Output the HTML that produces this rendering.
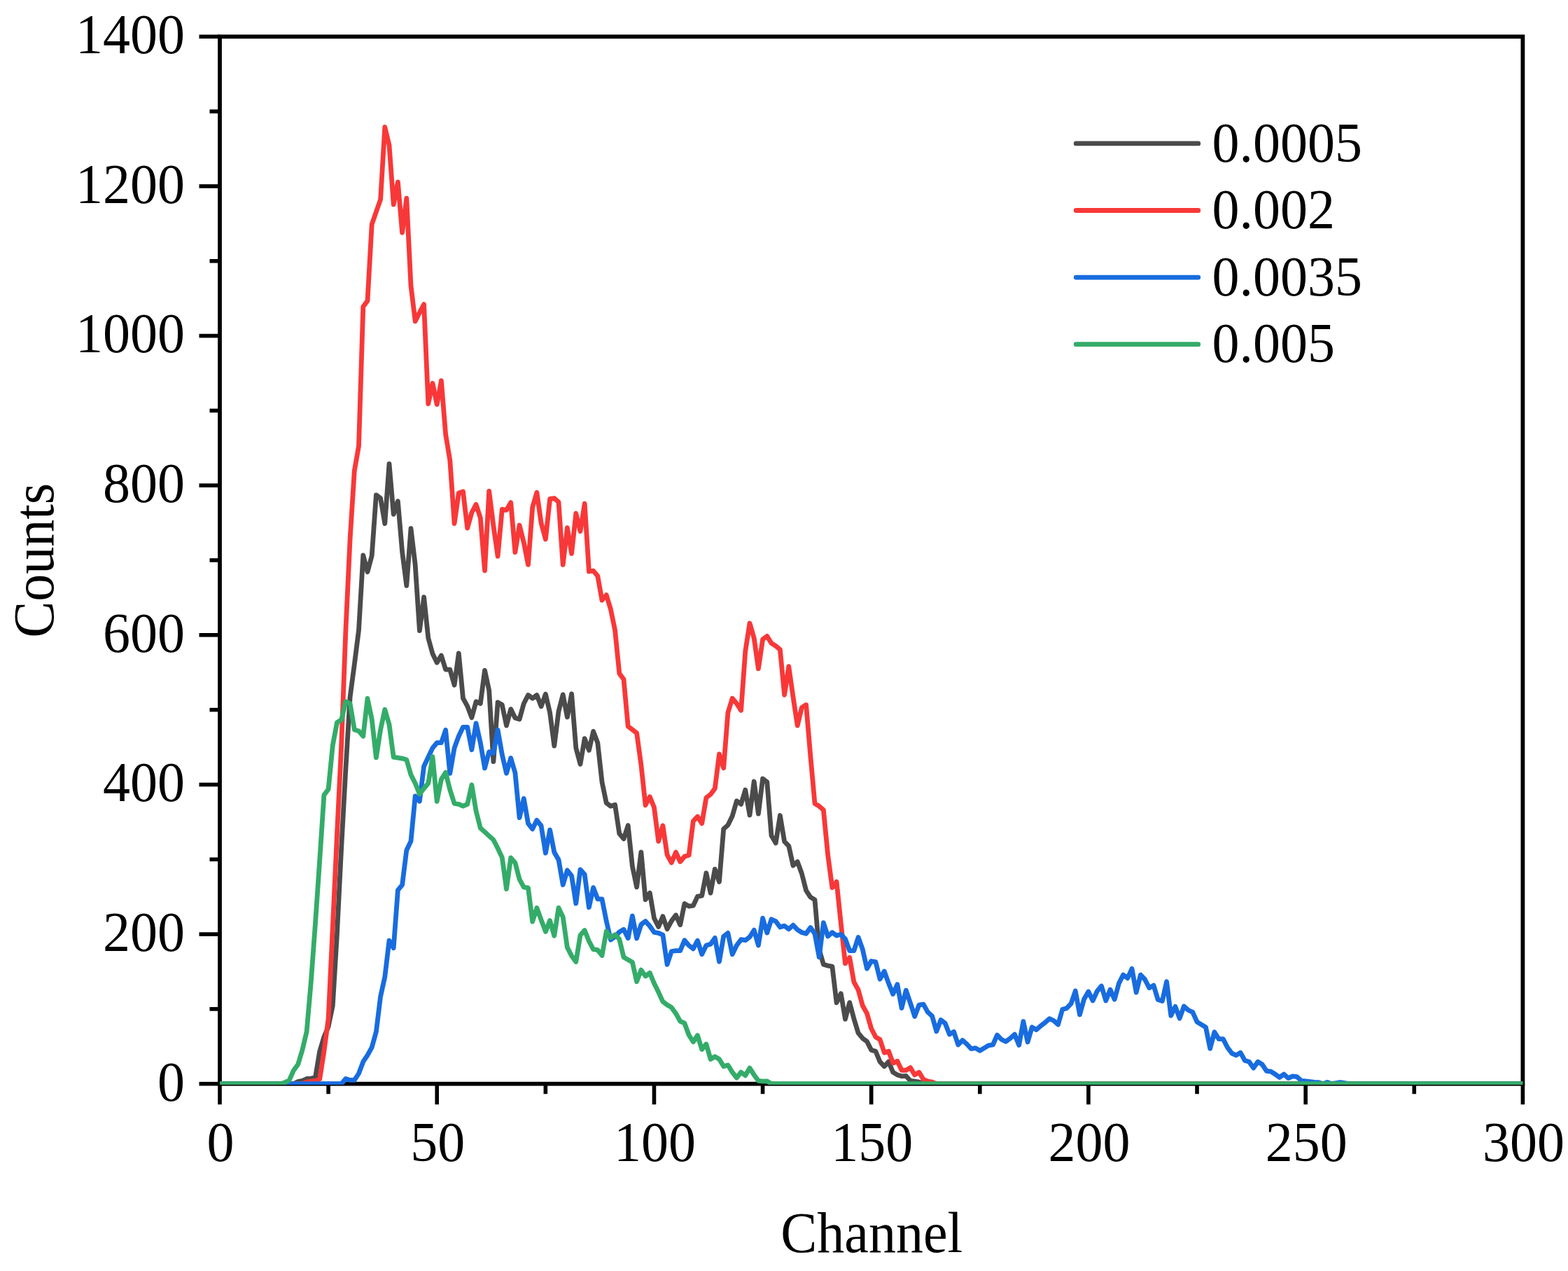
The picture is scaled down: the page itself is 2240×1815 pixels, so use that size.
<!DOCTYPE html>
<html lang="en">
<head>
<meta charset="utf-8">
<title>Counts vs Channel</title>
<style>
html,body{margin:0;padding:0;background:#fff;}
body{width:2240px;height:1815px;overflow:hidden;}
svg{display:block;}
text{font-family:'Liberation Serif', serif;}
</style>
</head>
<body>
<svg width="2240" height="1815" viewBox="0 0 2240 1815">
<rect width="2240" height="1815" fill="#fff"/>
<g stroke="#000" stroke-width="5.8" fill="none" stroke-linecap="butt">
<rect x="314.0" y="52.3" width="1861.4" height="1495.4"/>
<line x1="284.5" y1="1547.70" x2="314.0" y2="1547.70" stroke-width="5.6"/>
<line x1="299.5" y1="1440.89" x2="314.0" y2="1440.89" stroke-width="5.6"/>
<line x1="284.5" y1="1334.07" x2="314.0" y2="1334.07" stroke-width="5.6"/>
<line x1="299.5" y1="1227.26" x2="314.0" y2="1227.26" stroke-width="5.6"/>
<line x1="284.5" y1="1120.44" x2="314.0" y2="1120.44" stroke-width="5.6"/>
<line x1="299.5" y1="1013.63" x2="314.0" y2="1013.63" stroke-width="5.6"/>
<line x1="284.5" y1="906.81" x2="314.0" y2="906.81" stroke-width="5.6"/>
<line x1="299.5" y1="800.00" x2="314.0" y2="800.00" stroke-width="5.6"/>
<line x1="284.5" y1="693.19" x2="314.0" y2="693.19" stroke-width="5.6"/>
<line x1="299.5" y1="586.37" x2="314.0" y2="586.37" stroke-width="5.6"/>
<line x1="284.5" y1="479.56" x2="314.0" y2="479.56" stroke-width="5.6"/>
<line x1="299.5" y1="372.74" x2="314.0" y2="372.74" stroke-width="5.6"/>
<line x1="284.5" y1="265.93" x2="314.0" y2="265.93" stroke-width="5.6"/>
<line x1="299.5" y1="159.11" x2="314.0" y2="159.11" stroke-width="5.6"/>
<line x1="284.5" y1="52.30" x2="314.0" y2="52.30" stroke-width="5.6"/>
<line x1="314.00" y1="1547.7" x2="314.00" y2="1577.2" stroke-width="5.6"/>
<line x1="469.12" y1="1547.7" x2="469.12" y2="1562.2" stroke-width="5.6"/>
<line x1="624.23" y1="1547.7" x2="624.23" y2="1577.2" stroke-width="5.6"/>
<line x1="779.35" y1="1547.7" x2="779.35" y2="1562.2" stroke-width="5.6"/>
<line x1="934.47" y1="1547.7" x2="934.47" y2="1577.2" stroke-width="5.6"/>
<line x1="1089.58" y1="1547.7" x2="1089.58" y2="1562.2" stroke-width="5.6"/>
<line x1="1244.70" y1="1547.7" x2="1244.70" y2="1577.2" stroke-width="5.6"/>
<line x1="1399.82" y1="1547.7" x2="1399.82" y2="1562.2" stroke-width="5.6"/>
<line x1="1554.93" y1="1547.7" x2="1554.93" y2="1577.2" stroke-width="5.6"/>
<line x1="1710.05" y1="1547.7" x2="1710.05" y2="1562.2" stroke-width="5.6"/>
<line x1="1865.17" y1="1547.7" x2="1865.17" y2="1577.2" stroke-width="5.6"/>
<line x1="2020.28" y1="1547.7" x2="2020.28" y2="1562.2" stroke-width="5.6"/>
<line x1="2175.40" y1="1547.7" x2="2175.40" y2="1577.2" stroke-width="5.6"/>
</g>
<clipPath id="frame"><rect x="314.0" y="52.3" width="1861.4" height="1496.7"/></clipPath>
<g fill="none" stroke-width="6.8" stroke-linejoin="round" stroke-linecap="butt" clip-path="url(#frame)">
<polyline id="c-gray" stroke="#4B4B4B" points="314.0,1547.7 320.2,1547.7 326.4,1547.7 332.6,1547.7 338.8,1547.7 345.0,1547.7 351.2,1547.7 357.4,1547.7 363.6,1547.7 369.8,1547.7 376.0,1547.7 382.3,1547.7 388.5,1547.7 394.7,1547.7 400.9,1547.7 407.1,1547.7 413.3,1547.7 419.5,1547.7 425.7,1544.6 431.9,1543.3 438.1,1540.5 444.3,1540.1 450.5,1538.6 456.7,1501.3 462.9,1480.8 469.1,1465.9 475.3,1436.0 481.5,1333.3 487.7,1210.0 493.9,1098.0 500.1,995.3 506.3,948.7 512.5,900.0 518.8,792.9 525.0,816.7 531.2,793.6 537.4,706.8 543.6,711.5 549.8,747.6 556.0,662.3 562.2,734.3 568.4,715.7 574.6,788.0 580.8,836.3 587.0,754.7 593.2,806.7 599.4,900.6 605.6,852.7 611.8,911.2 618.0,933.6 624.2,946.3 630.4,936.1 636.6,956.1 642.8,956.1 649.1,978.3 655.3,932.9 661.5,997.2 667.7,1008.4 673.9,1024.7 680.1,1001.9 686.3,1004.7 692.5,957.3 698.7,986.0 704.9,1087.5 711.1,1002.8 717.3,1006.5 723.5,1036.1 729.7,1012.6 735.9,1025.2 742.1,1027.1 748.3,1004.7 754.5,992.5 760.7,997.2 766.9,992.5 773.1,1008.8 779.4,991.2 785.6,1017.7 791.8,1065.1 798.0,1015.9 804.2,991.9 810.4,1024.0 816.6,990.9 822.8,1068.1 829.0,1091.2 835.2,1054.6 841.4,1071.4 847.6,1044.4 853.8,1060.7 860.0,1116.7 866.2,1146.5 872.4,1151.2 878.6,1149.3 884.8,1190.4 891.0,1197.9 897.2,1178.8 903.4,1237.1 909.6,1266.7 915.9,1216.8 922.1,1284.7 928.3,1275.0 934.5,1311.3 940.7,1323.4 946.9,1308.6 953.1,1326.7 959.3,1315.1 965.5,1306.8 971.7,1320.7 977.9,1290.4 984.1,1294.1 990.3,1293.2 996.5,1280.1 1002.7,1279.2 1008.9,1246.8 1015.1,1275.2 1021.3,1241.2 1027.5,1259.3 1033.7,1183.8 1039.9,1178.3 1046.2,1165.2 1052.4,1143.7 1058.6,1148.4 1064.8,1128.1 1071.0,1164.0 1077.2,1116.0 1083.4,1162.1 1089.6,1112.0 1095.8,1116.7 1102.0,1193.2 1108.2,1203.9 1114.4,1164.5 1120.6,1201.6 1126.8,1208.1 1133.0,1236.1 1139.2,1230.5 1145.4,1247.5 1151.6,1271.7 1157.8,1281.1 1164.0,1284.8 1170.2,1355.7 1176.4,1377.2 1182.7,1379.1 1188.9,1380.0 1195.1,1431.8 1201.3,1418.8 1207.5,1455.3 1213.7,1431.6 1219.9,1454.7 1226.1,1475.2 1232.3,1482.7 1238.5,1487.3 1244.7,1499.4 1250.9,1501.3 1257.1,1516.2 1263.3,1522.8 1269.5,1516.2 1275.7,1531.2 1281.9,1534.9 1288.1,1536.8 1294.3,1536.4 1300.5,1543.3 1306.7,1544.2 1313.0,1545.2 1319.2,1547.7 1325.4,1547.7 1331.6,1547.7 1337.8,1547.7 1344.0,1547.7 1350.2,1547.7 1356.4,1547.7 1362.6,1547.7 1368.8,1547.7 1375.0,1547.7 1381.2,1547.7 1387.4,1547.7 1393.6,1547.7 1399.8,1547.7 1406.0,1547.7 1412.2,1547.7 1418.4,1547.7 1424.6,1547.7 1430.8,1547.7 1437.0,1547.7 1443.2,1547.7 1449.5,1547.7 1455.7,1547.7 1461.9,1547.7 1468.1,1547.7 1474.3,1547.7 1480.5,1547.7 1486.7,1547.7 1492.9,1547.7 1499.1,1547.7 1505.3,1547.7 1511.5,1547.7 1517.7,1547.7 1523.9,1547.7 1530.1,1547.7 1536.3,1547.7 1542.5,1547.7 1548.7,1547.7 1554.9,1547.7 1561.1,1547.7 1567.3,1547.7 1573.5,1547.7 1579.8,1547.7 1586.0,1547.7 1592.2,1547.7 1598.4,1547.7 1604.6,1547.7 1610.8,1547.7 1617.0,1547.7 1623.2,1547.7 1629.4,1547.7 1635.6,1547.7 1641.8,1547.7 1648.0,1547.7 1654.2,1547.7 1660.4,1547.7 1666.6,1547.7 1672.8,1547.7 1679.0,1547.7 1685.2,1547.7 1691.4,1547.7 1697.6,1547.7 1703.8,1547.7 1710.1,1547.7 1716.3,1547.7 1722.5,1547.7 1728.7,1547.7 1734.9,1547.7 1741.1,1547.7 1747.3,1547.7 1753.5,1547.7 1759.7,1547.7 1765.9,1547.7 1772.1,1547.7 1778.3,1547.7 1784.5,1547.7 1790.7,1547.7 1796.9,1547.7 1803.1,1547.7 1809.3,1547.7 1815.5,1547.7 1821.7,1547.7 1827.9,1547.7 1834.1,1547.7 1840.3,1547.7 1846.6,1547.7 1852.8,1547.7 1859.0,1547.7 1865.2,1547.7 1871.4,1547.7 1877.6,1547.7 1883.8,1547.7 1890.0,1547.7 1896.2,1547.7 1902.4,1547.7 1908.6,1547.7 1914.8,1547.7 1921.0,1547.7 1927.2,1547.7 1933.4,1547.7 1939.6,1547.7 1945.8,1547.7 1952.0,1547.7 1958.2,1547.7 1964.4,1547.7 1970.6,1547.7 1976.9,1547.7 1983.1,1547.7 1989.3,1547.7 1995.5,1547.7 2001.7,1547.7 2007.9,1547.7 2014.1,1547.7 2020.3,1547.7 2026.5,1547.7 2032.7,1547.7 2038.9,1547.7 2045.1,1547.7 2051.3,1547.7 2057.5,1547.7 2063.7,1547.7 2069.9,1547.7 2076.1,1547.7 2082.3,1547.7 2088.5,1547.7 2094.7,1547.7 2100.9,1547.7 2107.1,1547.7 2113.4,1547.7 2119.6,1547.7 2125.8,1547.7 2132.0,1547.7 2138.2,1547.7 2144.4,1547.7 2150.6,1547.7 2156.8,1547.7 2163.0,1547.7 2169.2,1547.7 2175.4,1547.7"/>
<polyline id="c-red" stroke="#F83838" points="314.0,1547.7 320.2,1547.7 326.4,1547.7 332.6,1547.7 338.8,1547.7 345.0,1547.7 351.2,1547.7 357.4,1547.7 363.6,1547.7 369.8,1547.7 376.0,1547.7 382.3,1547.7 388.5,1547.7 394.7,1547.7 400.9,1547.7 407.1,1547.7 413.3,1547.7 419.5,1547.7 425.7,1547.7 431.9,1547.7 438.1,1545.2 444.3,1544.2 450.5,1543.3 456.7,1540.9 462.9,1501.3 469.1,1454.7 475.3,1324.0 481.5,1191.3 487.7,1064.4 493.9,900.0 500.1,769.3 506.3,672.3 512.5,636.8 518.8,437.9 525.0,429.5 531.2,320.3 537.4,302.5 543.6,284.8 549.8,181.5 556.0,207.3 562.2,292.0 568.4,259.9 574.6,332.1 580.8,283.2 587.0,408.0 593.2,458.8 599.4,446.3 605.6,434.6 611.8,576.6 618.0,547.3 624.2,577.6 630.4,543.6 636.6,620.0 642.8,657.3 649.1,747.6 655.3,704.0 661.5,702.1 667.7,754.1 673.9,732.0 680.1,720.4 686.3,739.5 692.5,814.8 698.7,701.5 704.9,750.7 711.1,794.3 717.3,727.3 723.5,728.3 729.7,717.6 735.9,788.7 742.1,750.0 748.3,774.9 754.5,806.4 760.7,724.5 766.9,703.3 773.1,746.9 779.4,770.0 785.6,712.4 791.8,711.5 798.0,717.1 804.2,806.4 810.4,753.7 816.6,790.5 822.8,733.2 829.0,758.8 835.2,719.2 841.4,816.0 847.6,815.1 853.8,822.5 860.0,857.1 866.2,849.6 872.4,870.1 878.6,900.0 884.8,961.7 891.0,970.1 897.2,1037.3 903.4,1042.0 909.6,1046.7 915.9,1092.4 922.1,1149.8 928.3,1137.7 934.5,1153.1 940.7,1201.3 946.9,1179.0 953.1,1220.7 959.3,1231.9 965.5,1217.0 971.7,1230.5 977.9,1223.0 984.1,1221.2 990.3,1172.7 996.5,1166.1 1002.7,1175.9 1008.9,1139.1 1015.1,1134.4 1021.3,1126.0 1027.5,1076.8 1033.7,1096.8 1039.9,1017.7 1046.2,997.2 1052.4,1004.7 1058.6,1014.4 1064.8,930.0 1071.0,890.0 1077.2,911.2 1083.4,954.9 1089.6,913.0 1095.8,908.4 1102.0,918.6 1108.2,922.4 1114.4,927.6 1120.6,992.3 1126.8,951.7 1133.0,995.3 1139.2,1036.1 1145.4,1010.3 1151.6,1006.5 1157.8,1079.3 1164.0,1147.5 1170.2,1151.2 1176.4,1156.8 1182.7,1221.3 1188.9,1267.5 1195.1,1259.2 1201.3,1318.4 1207.5,1375.8 1213.7,1367.4 1219.9,1402.4 1226.1,1413.6 1232.3,1436.0 1238.5,1447.2 1244.7,1468.7 1250.9,1480.8 1257.1,1484.5 1263.3,1503.2 1269.5,1501.3 1275.7,1518.1 1281.9,1515.3 1288.1,1528.4 1294.3,1528.4 1300.5,1524.6 1306.7,1534.9 1313.0,1531.2 1319.2,1541.4 1325.4,1544.2 1331.6,1545.2 1337.8,1547.7 1344.0,1547.7 1350.2,1547.7 1356.4,1547.7 1362.6,1547.7 1368.8,1547.7 1375.0,1547.7 1381.2,1547.7 1387.4,1547.7 1393.6,1547.7 1399.8,1547.7 1406.0,1547.7 1412.2,1547.7 1418.4,1547.7 1424.6,1547.7 1430.8,1547.7 1437.0,1547.7 1443.2,1547.7 1449.5,1547.7 1455.7,1547.7 1461.9,1547.7 1468.1,1547.7 1474.3,1547.7 1480.5,1547.7 1486.7,1547.7 1492.9,1547.7 1499.1,1547.7 1505.3,1547.7 1511.5,1547.7 1517.7,1547.7 1523.9,1547.7 1530.1,1547.7 1536.3,1547.7 1542.5,1547.7 1548.7,1547.7 1554.9,1547.7 1561.1,1547.7 1567.3,1547.7 1573.5,1547.7 1579.8,1547.7 1586.0,1547.7 1592.2,1547.7 1598.4,1547.7 1604.6,1547.7 1610.8,1547.7 1617.0,1547.7 1623.2,1547.7 1629.4,1547.7 1635.6,1547.7 1641.8,1547.7 1648.0,1547.7 1654.2,1547.7 1660.4,1547.7 1666.6,1547.7 1672.8,1547.7 1679.0,1547.7 1685.2,1547.7 1691.4,1547.7 1697.6,1547.7 1703.8,1547.7 1710.1,1547.7 1716.3,1547.7 1722.5,1547.7 1728.7,1547.7 1734.9,1547.7 1741.1,1547.7 1747.3,1547.7 1753.5,1547.7 1759.7,1547.7 1765.9,1547.7 1772.1,1547.7 1778.3,1547.7 1784.5,1547.7 1790.7,1547.7 1796.9,1547.7 1803.1,1547.7 1809.3,1547.7 1815.5,1547.7 1821.7,1547.7 1827.9,1547.7 1834.1,1547.7 1840.3,1547.7 1846.6,1547.7 1852.8,1547.7 1859.0,1547.7 1865.2,1547.7 1871.4,1547.7 1877.6,1547.7 1883.8,1547.7 1890.0,1547.7 1896.2,1547.7 1902.4,1547.7 1908.6,1547.7 1914.8,1547.7 1921.0,1547.7 1927.2,1547.7 1933.4,1547.7 1939.6,1547.7 1945.8,1547.7 1952.0,1547.7 1958.2,1547.7 1964.4,1547.7 1970.6,1547.7 1976.9,1547.7 1983.1,1547.7 1989.3,1547.7 1995.5,1547.7 2001.7,1547.7 2007.9,1547.7 2014.1,1547.7 2020.3,1547.7 2026.5,1547.7 2032.7,1547.7 2038.9,1547.7 2045.1,1547.7 2051.3,1547.7 2057.5,1547.7 2063.7,1547.7 2069.9,1547.7 2076.1,1547.7 2082.3,1547.7 2088.5,1547.7 2094.7,1547.7 2100.9,1547.7 2107.1,1547.7 2113.4,1547.7 2119.6,1547.7 2125.8,1547.7 2132.0,1547.7 2138.2,1547.7 2144.4,1547.7 2150.6,1547.7 2156.8,1547.7 2163.0,1547.7 2169.2,1547.7 2175.4,1547.7"/>
<polyline id="c-blue" stroke="#186CDF" points="314.0,1547.7 320.2,1547.7 326.4,1547.7 332.6,1547.7 338.8,1547.7 345.0,1547.7 351.2,1547.7 357.4,1547.7 363.6,1547.7 369.8,1547.7 376.0,1547.7 382.3,1547.7 388.5,1547.7 394.7,1547.7 400.9,1547.7 407.1,1547.7 413.3,1547.7 419.5,1547.7 425.7,1547.7 431.9,1547.7 438.1,1547.7 444.3,1547.7 450.5,1547.7 456.7,1547.7 462.9,1547.7 469.1,1547.7 475.3,1547.7 481.5,1547.7 487.7,1547.7 493.9,1540.5 500.1,1542.4 506.3,1542.4 512.5,1533.0 518.8,1516.2 525.0,1506.9 531.2,1495.7 537.4,1473.3 543.6,1422.9 549.8,1394.9 556.0,1343.2 562.2,1353.8 568.4,1271.2 574.6,1263.7 580.8,1214.2 587.0,1201.1 593.2,1136.8 599.4,1144.2 605.6,1094.3 611.8,1081.2 618.0,1068.1 624.2,1060.7 630.4,1060.7 636.6,1042.5 642.8,1104.3 649.1,1068.1 655.3,1051.3 661.5,1038.3 667.7,1038.3 673.9,1070.7 680.1,1032.9 686.3,1060.7 692.5,1096.8 698.7,1073.7 704.9,1075.6 711.1,1042.3 717.3,1077.5 723.5,1104.3 729.7,1082.4 735.9,1103.6 742.1,1167.7 748.3,1140.3 754.5,1175.9 760.7,1183.8 766.9,1171.3 773.1,1179.2 779.4,1218.1 785.6,1185.1 791.8,1217.0 798.0,1227.7 804.2,1263.5 810.4,1242.8 816.6,1250.7 822.8,1290.1 829.0,1241.8 835.2,1248.8 841.4,1295.7 847.6,1267.5 853.8,1283.8 860.0,1283.8 866.2,1315.1 872.4,1342.1 878.6,1337.5 884.8,1330.9 891.0,1327.2 897.2,1339.8 903.4,1307.9 909.6,1340.0 915.9,1320.2 922.1,1315.5 928.3,1322.5 934.5,1331.4 940.7,1332.3 946.9,1335.1 953.1,1377.3 959.3,1358.5 965.5,1357.6 971.7,1357.6 977.9,1342.7 984.1,1350.1 990.3,1354.8 996.5,1343.2 1002.7,1362.7 1008.9,1350.1 1015.1,1348.3 1021.3,1339.4 1027.5,1373.2 1033.7,1337.1 1039.9,1332.4 1046.2,1362.7 1052.4,1350.1 1058.6,1341.7 1064.8,1342.7 1071.0,1338.0 1077.2,1328.2 1083.4,1349.9 1089.6,1311.2 1095.8,1332.1 1102.0,1312.8 1108.2,1315.6 1114.4,1324.0 1120.6,1322.1 1126.8,1326.8 1133.0,1321.2 1139.2,1327.7 1145.4,1331.5 1151.6,1333.3 1157.8,1324.5 1164.0,1333.3 1170.2,1366.7 1176.4,1317.7 1182.7,1337.1 1188.9,1331.5 1195.1,1336.1 1201.3,1334.3 1207.5,1340.8 1213.7,1357.6 1219.9,1357.6 1226.1,1338.5 1232.3,1355.7 1238.5,1383.2 1244.7,1372.5 1250.9,1373.5 1257.1,1398.2 1263.3,1387.0 1269.5,1404.3 1275.7,1419.6 1281.9,1405.7 1288.1,1439.5 1294.3,1414.1 1300.5,1432.3 1306.7,1451.4 1313.0,1435.1 1319.2,1434.1 1325.4,1445.3 1331.6,1450.9 1337.8,1472.8 1344.0,1456.5 1350.2,1461.2 1356.4,1477.1 1362.6,1473.3 1368.8,1492.0 1375.0,1485.5 1381.2,1491.0 1387.4,1497.6 1393.6,1496.6 1399.8,1500.4 1406.0,1496.6 1412.2,1492.9 1418.4,1492.0 1424.6,1478.0 1430.8,1484.5 1437.0,1487.3 1443.2,1482.7 1449.5,1477.1 1455.7,1492.4 1461.9,1458.7 1468.1,1488.0 1474.3,1466.8 1480.5,1470.5 1486.7,1464.9 1492.9,1460.3 1499.1,1454.7 1505.3,1457.5 1511.5,1463.1 1517.7,1441.6 1523.9,1439.7 1530.1,1433.2 1536.3,1415.0 1542.5,1448.8 1548.7,1426.7 1554.9,1416.0 1561.1,1429.0 1567.3,1415.5 1573.5,1408.0 1579.8,1429.0 1586.0,1413.2 1592.2,1427.1 1598.4,1404.3 1604.6,1392.1 1610.8,1396.8 1617.0,1383.3 1623.2,1417.1 1629.4,1392.1 1635.6,1398.7 1641.8,1410.8 1648.0,1407.1 1654.2,1427.6 1660.4,1429.5 1666.6,1401.7 1672.8,1450.4 1679.0,1437.4 1685.2,1454.2 1691.4,1436.9 1697.6,1442.5 1703.8,1445.3 1710.1,1459.3 1716.3,1463.1 1722.5,1466.8 1728.7,1497.3 1734.9,1473.8 1741.1,1483.6 1747.3,1483.6 1753.5,1495.7 1759.7,1504.1 1765.9,1506.9 1772.1,1503.2 1778.3,1514.4 1784.5,1516.2 1790.7,1525.1 1796.9,1516.2 1803.1,1520.0 1809.3,1529.3 1815.5,1530.2 1821.7,1534.0 1827.9,1538.6 1834.1,1534.0 1840.3,1539.6 1846.6,1536.8 1852.8,1537.7 1859.0,1543.3 1865.2,1543.9 1871.4,1544.6 1877.6,1545.4 1883.8,1545.7 1890.0,1547.7 1896.2,1545.4 1902.4,1547.7 1908.6,1546.7 1914.8,1545.7 1921.0,1546.7 1927.2,1547.7 1933.4,1547.7 1939.6,1547.7 1945.8,1547.7 1952.0,1547.7 1958.2,1547.7 1964.4,1547.7 1970.6,1547.7 1976.9,1547.7 1983.1,1547.7 1989.3,1547.7 1995.5,1547.7 2001.7,1547.7 2007.9,1547.7 2014.1,1547.7 2020.3,1547.7 2026.5,1547.7 2032.7,1547.7 2038.9,1547.7 2045.1,1547.7 2051.3,1547.7 2057.5,1547.7 2063.7,1547.7 2069.9,1547.7 2076.1,1547.7 2082.3,1547.7 2088.5,1547.7 2094.7,1547.7 2100.9,1547.7 2107.1,1547.7 2113.4,1547.7 2119.6,1547.7 2125.8,1547.7 2132.0,1547.7 2138.2,1547.7 2144.4,1547.7 2150.6,1547.7 2156.8,1547.7 2163.0,1547.7 2169.2,1547.7 2175.4,1547.7"/>
<polyline id="c-green" stroke="#34AC69" points="314.0,1547.7 320.2,1547.7 326.4,1547.7 332.6,1547.7 338.8,1547.7 345.0,1547.7 351.2,1547.7 357.4,1547.7 363.6,1547.7 369.8,1547.7 376.0,1547.7 382.3,1547.7 388.5,1547.7 394.7,1547.7 400.9,1547.7 407.1,1545.7 413.3,1542.4 419.5,1528.4 425.7,1520.0 431.9,1499.4 438.1,1473.3 444.3,1402.4 450.5,1318.4 456.7,1228.6 462.9,1135.3 469.1,1126.9 475.3,1064.4 481.5,1031.7 487.7,1028.0 493.9,1001.9 500.1,1004.7 506.3,1042.0 512.5,1043.9 518.8,1051.3 525.0,997.5 531.2,1027.1 537.4,1081.9 543.6,1042.0 549.8,1013.3 556.0,1034.5 562.2,1081.2 568.4,1082.1 574.6,1083.1 580.8,1084.9 587.0,1106.4 593.2,1118.5 599.4,1133.9 605.6,1126.0 611.8,1118.5 618.0,1080.5 624.2,1144.4 630.4,1112.9 636.6,1103.2 642.8,1127.9 649.1,1147.5 655.3,1148.4 661.5,1151.2 667.7,1148.4 673.9,1120.7 680.1,1158.2 686.3,1182.5 692.5,1188.1 698.7,1193.7 704.9,1199.3 711.1,1211.4 717.3,1224.5 723.5,1269.5 729.7,1224.9 735.9,1231.9 742.1,1255.7 748.3,1266.9 754.5,1267.9 760.7,1316.1 766.9,1296.4 773.1,1313.6 779.4,1330.4 785.6,1314.6 791.8,1336.3 798.0,1296.4 804.2,1309.5 810.4,1352.9 816.6,1365.0 822.8,1373.4 829.0,1335.6 835.2,1328.6 841.4,1344.0 847.6,1355.7 853.8,1356.6 860.0,1364.5 866.2,1330.0 872.4,1338.9 878.6,1334.7 884.8,1341.2 891.0,1366.9 897.2,1370.6 903.4,1373.9 909.6,1401.8 915.9,1385.1 922.1,1393.9 928.3,1389.3 934.5,1404.2 940.7,1416.8 946.9,1430.3 953.1,1435.0 959.3,1438.7 965.5,1447.2 971.7,1458.4 977.9,1461.2 984.1,1478.0 990.3,1487.8 996.5,1478.5 1002.7,1498.5 1008.9,1491.0 1015.1,1512.5 1021.3,1508.8 1027.5,1512.5 1033.7,1522.8 1039.9,1520.9 1046.2,1531.2 1052.4,1539.1 1058.6,1531.2 1064.8,1535.8 1071.0,1525.1 1077.2,1534.9 1083.4,1543.3 1089.6,1544.2 1095.8,1543.9 1102.0,1547.7 1108.2,1547.7 1114.4,1547.7 1120.6,1547.7 1126.8,1547.7 1133.0,1547.7 1139.2,1547.7 1145.4,1547.7 1151.6,1547.7 1157.8,1547.7 1164.0,1547.7 1170.2,1547.7 1176.4,1547.7 1182.7,1547.7 1188.9,1547.7 1195.1,1547.7 1201.3,1547.7 1207.5,1547.7 1213.7,1547.7 1219.9,1547.7 1226.1,1547.7 1232.3,1547.7 1238.5,1547.7 1244.7,1547.7 1250.9,1547.7 1257.1,1547.7 1263.3,1547.7 1269.5,1547.7 1275.7,1547.7 1281.9,1547.7 1288.1,1547.7 1294.3,1547.7 1300.5,1547.7 1306.7,1547.7 1313.0,1547.7 1319.2,1547.7 1325.4,1547.7 1331.6,1547.7 1337.8,1547.7 1344.0,1547.7 1350.2,1547.7 1356.4,1547.7 1362.6,1547.7 1368.8,1547.7 1375.0,1547.7 1381.2,1547.7 1387.4,1547.7 1393.6,1547.7 1399.8,1547.7 1406.0,1547.7 1412.2,1547.7 1418.4,1547.7 1424.6,1547.7 1430.8,1547.7 1437.0,1547.7 1443.2,1547.7 1449.5,1547.7 1455.7,1547.7 1461.9,1547.7 1468.1,1547.7 1474.3,1547.7 1480.5,1547.7 1486.7,1547.7 1492.9,1547.7 1499.1,1547.7 1505.3,1547.7 1511.5,1547.7 1517.7,1547.7 1523.9,1547.7 1530.1,1547.7 1536.3,1547.7 1542.5,1547.7 1548.7,1547.7 1554.9,1547.7 1561.1,1547.7 1567.3,1547.7 1573.5,1547.7 1579.8,1547.7 1586.0,1547.7 1592.2,1547.7 1598.4,1547.7 1604.6,1547.7 1610.8,1547.7 1617.0,1547.7 1623.2,1547.7 1629.4,1547.7 1635.6,1547.7 1641.8,1547.7 1648.0,1547.7 1654.2,1547.7 1660.4,1547.7 1666.6,1547.7 1672.8,1547.7 1679.0,1547.7 1685.2,1547.7 1691.4,1547.7 1697.6,1547.7 1703.8,1547.7 1710.1,1547.7 1716.3,1547.7 1722.5,1547.7 1728.7,1547.7 1734.9,1547.7 1741.1,1547.7 1747.3,1547.7 1753.5,1547.7 1759.7,1547.7 1765.9,1547.7 1772.1,1547.7 1778.3,1547.7 1784.5,1547.7 1790.7,1547.7 1796.9,1547.7 1803.1,1547.7 1809.3,1547.7 1815.5,1547.7 1821.7,1547.7 1827.9,1547.7 1834.1,1547.7 1840.3,1547.7 1846.6,1547.7 1852.8,1547.7 1859.0,1547.7 1865.2,1547.7 1871.4,1547.7 1877.6,1547.7 1883.8,1547.7 1890.0,1547.7 1896.2,1547.7 1902.4,1547.7 1908.6,1547.7 1914.8,1547.7 1921.0,1547.7 1927.2,1547.7 1933.4,1547.7 1939.6,1547.7 1945.8,1547.7 1952.0,1547.7 1958.2,1547.7 1964.4,1547.7 1970.6,1547.7 1976.9,1547.7 1983.1,1547.7 1989.3,1547.7 1995.5,1547.7 2001.7,1547.7 2007.9,1547.7 2014.1,1547.7 2020.3,1547.7 2026.5,1547.7 2032.7,1547.7 2038.9,1547.7 2045.1,1547.7 2051.3,1547.7 2057.5,1547.7 2063.7,1547.7 2069.9,1547.7 2076.1,1547.7 2082.3,1547.7 2088.5,1547.7 2094.7,1547.7 2100.9,1547.7 2107.1,1547.7 2113.4,1547.7 2119.6,1547.7 2125.8,1547.7 2132.0,1547.7 2138.2,1547.7 2144.4,1547.7 2150.6,1547.7 2156.8,1547.7 2163.0,1547.7 2169.2,1547.7 2175.4,1547.7"/>
</g>
<g font-family="'Liberation Serif', serif" font-size="78" fill="#000">
<text transform="translate(264,1571.5) scale(1,1.036)" text-anchor="end">0</text>
<text transform="translate(264,1357.9) scale(1,1.036)" text-anchor="end">200</text>
<text transform="translate(264,1144.2) scale(1,1.036)" text-anchor="end">400</text>
<text transform="translate(264,930.6) scale(1,1.036)" text-anchor="end">600</text>
<text transform="translate(264,717.0) scale(1,1.036)" text-anchor="end">800</text>
<text transform="translate(264,503.4) scale(1,1.036)" text-anchor="end">1000</text>
<text transform="translate(264,289.7) scale(1,1.036)" text-anchor="end">1200</text>
<text transform="translate(264,76.1) scale(1,1.036)" text-anchor="end">1400</text>
<text transform="translate(315.0,1658) scale(1,1.036)" text-anchor="middle">0</text>
<text transform="translate(625.2,1658) scale(1,1.036)" text-anchor="middle">50</text>
<text transform="translate(935.5,1658) scale(1,1.036)" text-anchor="middle">100</text>
<text transform="translate(1245.7,1658) scale(1,1.036)" text-anchor="middle">150</text>
<text transform="translate(1555.9,1658) scale(1,1.036)" text-anchor="middle">200</text>
<text transform="translate(1866.2,1658) scale(1,1.036)" text-anchor="middle">250</text>
<text transform="translate(2176.4,1658) scale(1,1.036)" text-anchor="middle">300</text>
</g>
<g font-family="'Liberation Serif', serif" font-size="78" fill="#000">
<text transform="translate(1245.3,1787.8) scale(1,1.07)" text-anchor="middle">Channel</text>
<text transform="translate(75.6,800.3) rotate(-90) scale(1,1.05)" text-anchor="middle">Counts</text>
</g>
<g font-family="'Liberation Serif', serif" font-size="78" fill="#000">
<line x1="1537.2" y1="204.9" x2="1711.8" y2="204.9" stroke="#4B4B4B" stroke-width="6.8" stroke-linecap="round"/>
<text transform="translate(1731.5,230.6) scale(1,1.034)">0.0005</text>
<line x1="1537.2" y1="300.5" x2="1711.8" y2="300.5" stroke="#F83838" stroke-width="6.8" stroke-linecap="round"/>
<text transform="translate(1731.5,326.2) scale(1,1.034)">0.002</text>
<line x1="1537.2" y1="396.1" x2="1711.8" y2="396.1" stroke="#186CDF" stroke-width="6.8" stroke-linecap="round"/>
<text transform="translate(1731.5,421.8) scale(1,1.034)">0.0035</text>
<line x1="1537.2" y1="491.7" x2="1711.8" y2="491.7" stroke="#34AC69" stroke-width="6.8" stroke-linecap="round"/>
<text transform="translate(1731.5,517.4) scale(1,1.034)">0.005</text>
</g>
</svg>
</body>
</html>
